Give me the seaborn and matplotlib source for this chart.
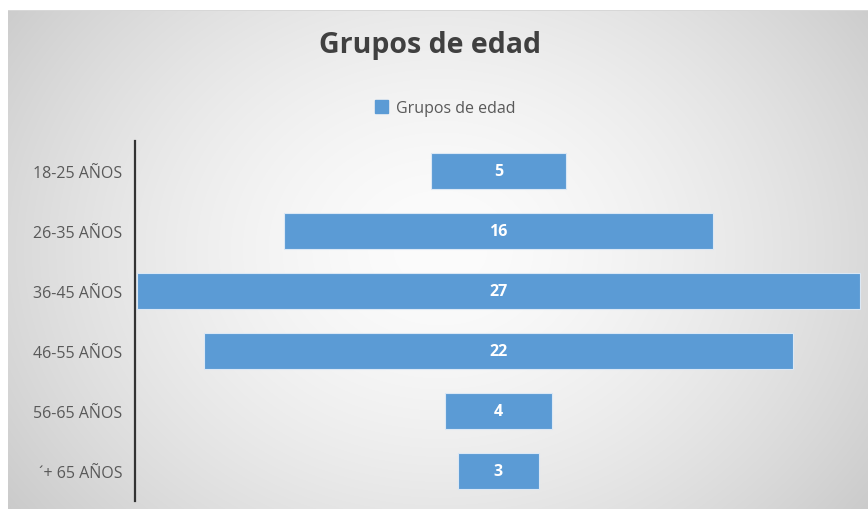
import numpy as np
import pandas as pd
import matplotlib
matplotlib.use("Agg")
import matplotlib.pyplot as plt
import seaborn as sns
from matplotlib.patches import Patch

# data
grupos = ["18-25 AÑOS", "26-35 AÑOS", "36-45 AÑOS", "46-55 AÑOS", "56-65 AÑOS", "´+ 65 AÑOS"]
personas = [5, 16, 27, 22, 4, 3]
titulo = "Grupos de edad"
serie = "Grupos de edad"

bar_color = "#5B9BD5"
text_gray = "#595959"

sns.set_theme(style="white")
plt.rcParams["font.family"] = ["Open Sans", "DejaVu Sans"]

W, H = 868, 510
fig = plt.figure(figsize=(W / 100, H / 100), dpi=100)

# radial gray background like the office chart style
yy, xx = np.mgrid[0:H, 0:W]
cx, cy = 440, 250
r = np.sqrt(((xx - cx) / 540.0) ** 2 + ((yy - cy) / 440.0) ** 2)
shade = 252 - 50 * np.clip(r, 0, 1) ** 1.6
bg = np.repeat(shade[:, :, None], 3, axis=2)
bg[:11, :, :] = 255
bg[:, :8, :] = 255
bg[11, 8:, :] = 215
fig.figimage(bg.astype(np.uint8), 0, 0, zorder=-5, origin="upper")

df = pd.DataFrame({"grupo": grupos, "n": personas})

ax = fig.add_axes([135 / W, (H - 502) / H, 727 / W, 360 / H])
ax.set_zorder(2)
ax.patch.set_alpha(0)
sns.barplot(data=df, x="n", y="grupo", color=bar_color, saturation=1,
            width=0.6, ax=ax, edgecolor="#dbe8f5", linewidth=0.8)

# center every bar around zero (funnel layout)
for p, v in zip(ax.patches, personas):
    p.set_x(-v / 2)
    p.set_width(v)
    ax.text(0, p.get_y() + p.get_height() / 2, str(v), ha="center", va="center",
            color="white", fontsize=11.5, fontweight="bold")

ax.set_xlim(-13.56, 13.56)
ax.set_ylim(5.5, -0.5)
ax.set_xlabel("")
ax.set_ylabel("")
ax.set_xticks([])
ax.tick_params(axis="y", length=0, pad=9, labelsize=11.5, labelcolor=text_gray)
for s in ["top", "right", "bottom"]:
    ax.spines[s].set_visible(False)
ax.spines["left"].set_color("#333333")
ax.spines["left"].set_linewidth(1.6)

fig.text(430 / W, 1 - 46 / H, titulo, ha="center", va="center",
         fontsize=20.5, fontweight="bold", color="#404040")

fig.legend(handles=[Patch(color=bar_color)], labels=[serie], loc="center",
           bbox_to_anchor=(445 / W, 1 - 109 / H), frameon=False,
           handlelength=0.8, handleheight=0.8, handletextpad=0.5,
           prop={"size": 11.5}, labelcolor=text_gray)

fig.savefig("out.png", dpi=100)
